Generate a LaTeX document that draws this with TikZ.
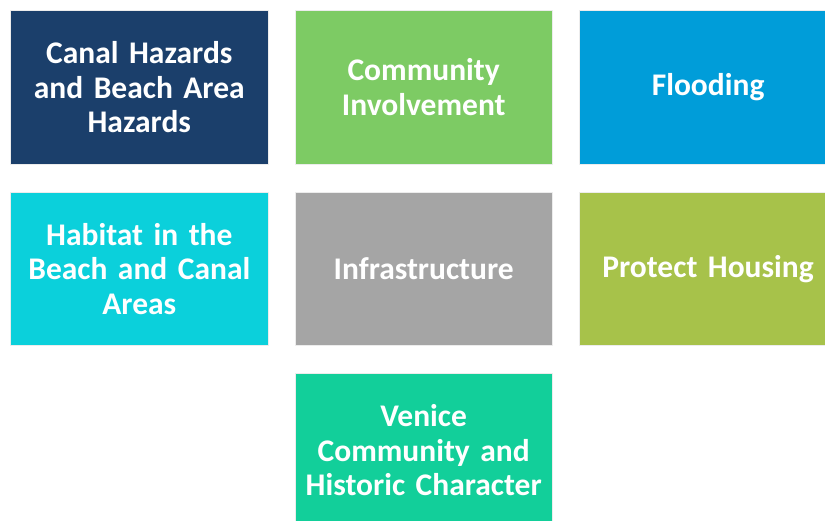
\documentclass[tikz,border=0pt]{standalone}
\usepackage{fontspec}
\setmainfont{Carlito}
\usetikzlibrary{positioning}
\definecolor{navy}{HTML}{1B3F6B}
\definecolor{leaf}{HTML}{7DCB64}
\definecolor{sky}{HTML}{009DD9}
\definecolor{aqua}{HTML}{0BD0DB}
\definecolor{stone}{HTML}{A5A5A5}
\definecolor{olive}{HTML}{A7C24A}
\definecolor{teal}{HTML}{12CF9A}
\begin{document}
\begin{tikzpicture}[x=1pt,y=1pt,line join=round,
	font=\fontsize{31.5}{34.5}\selectfont\bfseries,
	tile/.style={rectangle,minimum width=257.4pt,minimum height=153.4pt,text width=254pt,
		align=center,text=white,draw=white!85!gray,line width=0.6pt,inner sep=0pt},
	node distance=27.4pt and 26.4pt]
	\useasboundingbox (0,0) rectangle (825,-521);
	\clip (0,0) rectangle (825,-521);
	% first row
	\node[tile,fill=navy,anchor=north west] (hazards) at (10.3,-10.3) {Canal Hazards\\and Beach Area\\Hazards};
	\node[tile,fill=leaf,right=of hazards] (involve) {Community\\Involvement};
	\node[tile,fill=sky,right=of involve] (flood) {Flooding};
	% second row
	\node[tile,fill=aqua,below=of hazards] (habitat) {Habitat in the\\Beach and Canal\\Areas};
	\node[tile,fill=stone,below=of involve] (infra) {Infrastructure};
	\node[tile,fill=olive,below=of flood,text width=232pt] (housing) {Protect Housing};
	% third row
	\node[tile,fill=teal,below=of infra] (venice) {Venice\\Community and\\Historic Character};
\end{tikzpicture}
\end{document}
